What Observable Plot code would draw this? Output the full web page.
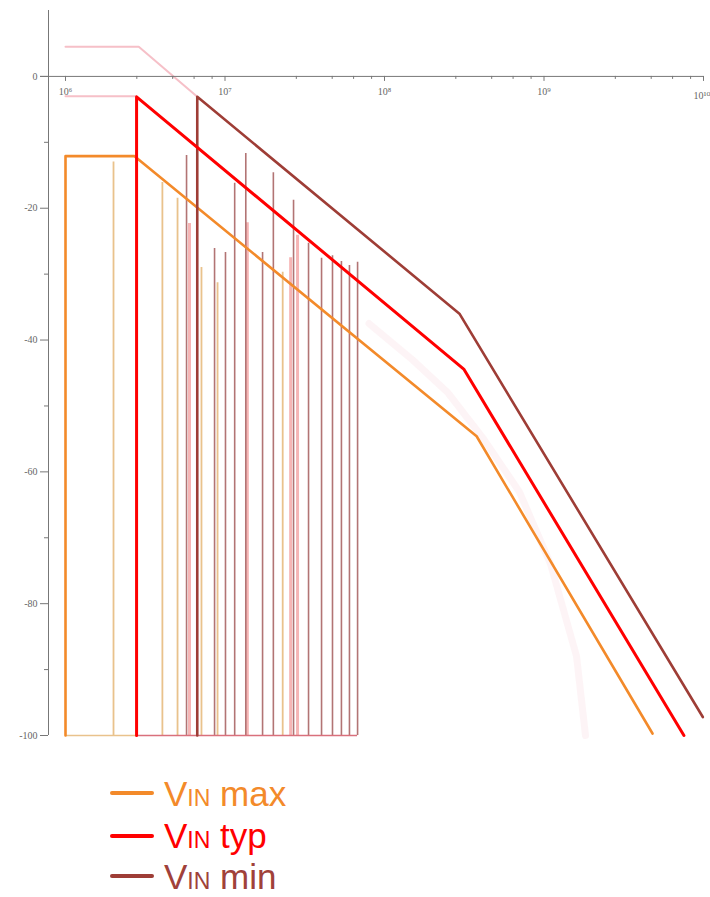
<!DOCTYPE html>
<html><head><meta charset="utf-8">
<script src="https://cdn.jsdelivr.net/npm/d3@7"></script>
<script src="https://cdn.jsdelivr.net/npm/@observablehq/plot@0.6"></script>
<style>
html,body{margin:0;padding:0;background:#fff;}
body{width:710px;height:897px;overflow:hidden;position:relative;font-family:"Liberation Sans",Arial,sans-serif;}
#chart{position:absolute;left:0;top:0;}
.sw{position:absolute;left:110px;width:44px;height:4px;border-radius:2px;}
.lab{position:absolute;left:164px;font-size:35px;line-height:28px;white-space:nowrap;}
.lab span{font-size:23px;}
</style></head><body>
<div id="chart"></div>
<div id="legend"></div>
<script>
// ---- data (frequencies in MHz, levels in dB) ----
const maxF  = [1, 1, 2.71, 378, 4790];
const maxDb = [-100, -12.1, -12.1, -54.6, -99.7];
const typF  = [2.79, 2.79, 314, 7540];
const typDb = [-100, -3.1, -44.4, -100];
const minF  = [6.70, 6.70, 295, 9900];
const minDb = [-100, -3.1, -36.0, -97.2];

const spikeF  = [2.0, 4.05, 5.04, 5.74, 5.99, 7.12, 8.60, 8.98, 10.07, 11.5, 13.5, 13.8, 17.2, 20.1, 23.0, 25.8, 26.9, 28.5, 33.4, 40.3, 47.2, 53.7, 60.3, 67.8];
const spikeDb = [-13.0, -16.1, -18.5, -12.0, -22.3, -29.0, -26.1, -31.3, -26.7, -16.2, -11.7, -22.2, -26.7, -14.6, -29.7, -27.5, -18.8, -24.1, -25.3, -27.6, -27.2, -28.1, -28.7, -28.2];
const spikeSeries = ["max","max","max","min","typ","max","min","max","min","min","min","typ","min","min","max","typ","min","typ","min","min","min","min","min","min"];

const ghostHiF  = [1, 2.88, 6.70];
const ghostHiDb = [4.5, 4.5, -3.1];
const ghostLoF  = [1, 2.79];
const ghostLoDb = [-3.0, -3.0];

const measF  = [80, 150, 250, 418, 700, 1100, 1600, 1820];
const measDb = [-37.5, -43.0, -48.0, -55.0, -63.0, -74.0, -88.0, -100];

const xMajorExp = [6, 7, 8, 9, 10];
const xMinorMult = [2.8, 4.7, 6.4, 8.3];
const yMajor = [0, -20, -40, -60, -80, -100];
const yMinor = [-10, -30, -50, -70, -90];

const legendSeries = ["max", "typ", "min"];
const legendNames = ["max", "typ", "min"];

// ---- build ----
const colors = {max: "#f38a2a", typ: "#ff0000", min: "#9e3d36"};
const spikeColors = {max: "#e9c28c", typ: "#f4a3a3", min: "#b27474"};
const MHz = 1e6;
const pts = (F, D) => F.map((f, i) => ({f: f * MHz, db: D[i]}));
const maxLine = pts(maxF, maxDb), typLine = pts(typF, typDb), minLine = pts(minF, minDb);
const spikes = spikeF.map((f, i) => ({f: f * MHz, db: spikeDb[i], s: spikeSeries[i]}));
const xMajor = xMajorExp.map(e => Math.pow(10, e));
const xMinor = [];
for (const e of [6, 7, 8, 9]) for (const m of xMinorMult) xMinor.push(m * Math.pow(10, e));
const sup = {"0":"⁰","1":"¹","6":"⁶","7":"⁷","8":"⁸","9":"⁹"};
const fmtPow = v => "10" + String(Math.round(Math.log10(v))).split("").map(c => sup[c]).join("");

const W = 710, H = 760, mT = 10, mB = 25, mL = 48, mR = 7;
const x0 = Math.pow(10, 5.8934);
const yPix0 = (H - mB) - (100 / 110) * (H - mB - mT);
const axisDy = yPix0 - (H - mB);
const lastMajor = xMajor[xMajor.length - 1];

const chart = Plot.plot({
  width: W, height: H, marginTop: mT, marginBottom: mB, marginLeft: mL, marginRight: mR,
  x: {type: "log", domain: [x0, 1e10], axis: null},
  y: {domain: [-100, 10], axis: null},
  style: {fontFamily: "'Liberation Serif','DejaVu Serif',serif", fontSize: "10px", color: "#666", background: "transparent"},
  marks: [
    Plot.line(pts(measF, measDb), {x: "f", y: "db", stroke: "#f4b0bc", strokeOpacity: 0.14, strokeWidth: 7}),
    Plot.line(pts(ghostHiF, ghostHiDb), {x: "f", y: "db", stroke: "#f6c0c8", strokeWidth: 2}),
    Plot.line(pts(ghostLoF, ghostLoDb), {x: "f", y: "db", stroke: "#f6c0c8", strokeWidth: 2}),
    Plot.ruleX(spikes.filter(d => d.s === "typ"), {x: "f", y1: -100, y2: "db", stroke: spikeColors.typ, strokeWidth: 3, strokeOpacity: 0.8}),
    Plot.ruleX(spikes.filter(d => d.s === "max"), {x: "f", y1: -100, y2: "db", stroke: spikeColors.max, strokeWidth: 1.8}),
    Plot.ruleX(spikes.filter(d => d.s === "min"), {x: "f", y1: -100, y2: "db", stroke: spikeColors.min, strokeWidth: 1.6}),
    Plot.ruleY([-100], {x1: 1 * MHz, x2: typF[0] * MHz, stroke: "#e9c28c", strokeWidth: 1.5}),
    Plot.ruleY([-100], {x1: typF[0] * MHz, x2: spikeF[spikeF.length - 1] * MHz, stroke: "#d9707c", strokeWidth: 1.5}),
    // axes
    Plot.ruleX([x0], {y1: -100, y2: 10, stroke: "#777"}),
    Plot.ruleY([0], {stroke: "#777", insetLeft: -8}),
    Plot.axisY({ticks: yMajor, tickSize: 8, tickPadding: 3, tickFormat: d => String(d), stroke: "#777", label: null}),
    Plot.axisY({ticks: yMinor, tickSize: 4, tickFormat: () => "", stroke: "#777", label: null}),
    Plot.axisX({ticks: xMajor, anchor: "bottom", dy: axisDy, tickSize: 5, tickPadding: 6, tickFormat: v => v === lastMajor ? "" : fmtPow(v), stroke: "#777", label: null}),
    Plot.text([lastMajor], {x: d => d, y: 0, text: d => fmtPow(d), textAnchor: "end", dx: 7, dy: 19, fill: "#666"}),
    Plot.axisX({ticks: xMinor, anchor: "bottom", dy: axisDy, tickSize: 3, tickFormat: () => "", stroke: "#777", label: null}),
    // main envelopes
    Plot.line(maxLine, {x: "f", y: "db", stroke: colors.max, strokeWidth: 2.6}),
    Plot.line(minLine, {x: "f", y: "db", stroke: colors.min, strokeWidth: 2.6}),
    Plot.line(typLine, {x: "f", y: "db", stroke: colors.typ, strokeWidth: 3})
  ]
});
document.getElementById("chart").append(chart);

// legend
const leg = document.getElementById("legend");
const swTop = [791, 834, 874], txtTop = [780, 822, 863];
legendSeries.forEach((s, i) => {
  const sw = document.createElement("div");
  sw.className = "sw"; sw.style.top = swTop[i] + "px"; sw.style.background = colors[s];
  leg.append(sw);
  const t = document.createElement("div");
  t.className = "lab"; t.style.top = txtTop[i] + "px"; t.style.color = s === "min" ? "#a0413a" : colors[s];
  t.innerHTML = "V<span>IN</span> " + legendNames[i];
  leg.append(t);
});
</script>
</body></html>
